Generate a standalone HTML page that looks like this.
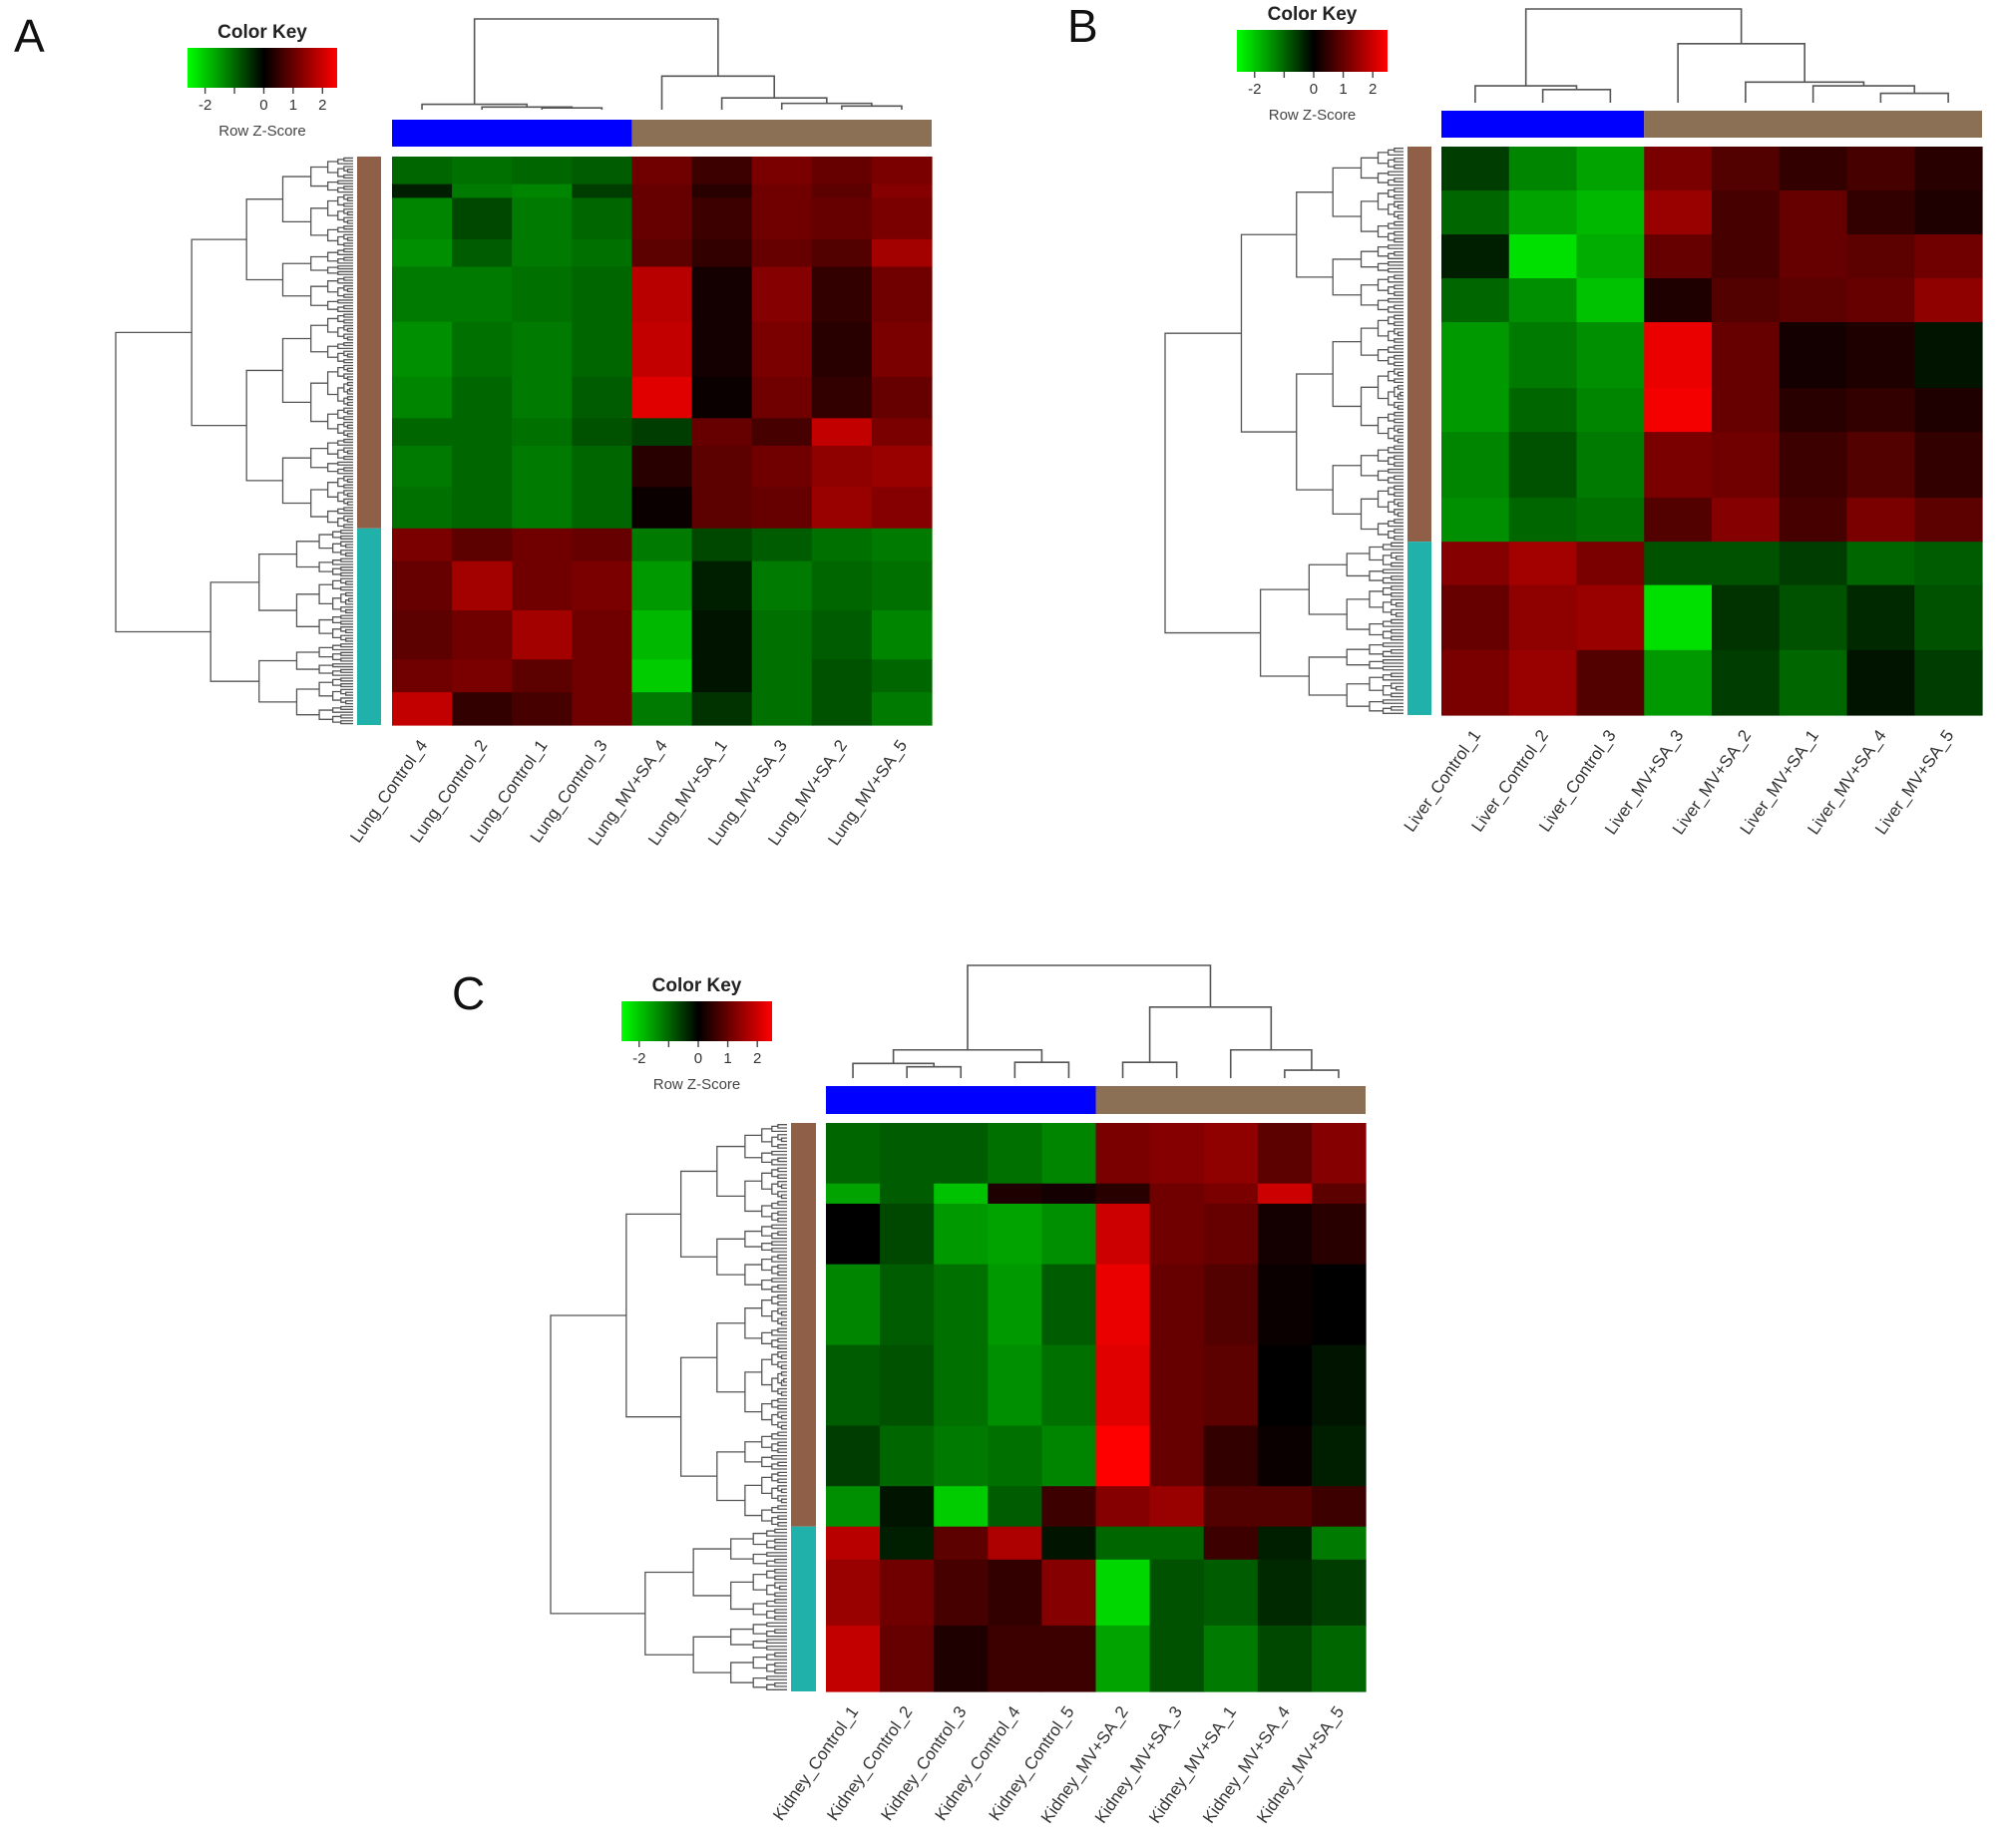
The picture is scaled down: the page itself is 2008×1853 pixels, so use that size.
<!DOCTYPE html>
<html><head><meta charset="utf-8"><style>
html,body{margin:0;padding:0;background:#fff;}
svg{display:block;font-family:"Liberation Sans",sans-serif;}
</style></head><body>
<svg id="fig" width="2008" height="1853" viewBox="0 0 2008 1853" xmlns="http://www.w3.org/2000/svg">
<rect width="2008" height="1853" fill="#fff"/>
<text x="14" y="52" font-size="46" fill="#111">A</text>
<text x="1070" y="42" font-size="46" fill="#111">B</text>
<text x="453" y="1012" font-size="46" fill="#111">C</text>
</svg>
<script>
// ---------- Panel A (Lung) data ----------
const lungSamples = ["Lung_Control_4","Lung_Control_2","Lung_Control_1","Lung_Control_3","Lung_MV+SA_4","Lung_MV+SA_1","Lung_MV+SA_3","Lung_MV+SA_2","Lung_MV+SA_5"];
const lungGroups = [0,0,0,0,1,1,1,1,1];
const lungClusterSplit = 0.654;
const lungTopWeights = [2,1,3,2,4,4,3,2,3,3];
const lungTopRows = [
 [-1.0,-1.1,-1.0,-0.9, 1.1,0.6,1.2,1.0,1.2],
 [-0.3,-1.2,-1.3,-0.6, 1.0,0.4,1.1,0.9,1.3],
 [-1.3,-0.7,-1.2,-1.0, 1.0,0.6,1.1,1.0,1.2],
 [-1.4,-0.9,-1.2,-1.1, 0.9,0.5,1.0,0.8,1.6],
 [-1.2,-1.2,-1.1,-1.0, 1.8,0.2,1.3,0.5,1.1],
 [-1.4,-1.1,-1.2,-1.0, 1.9,0.2,1.2,0.4,1.2],
 [-1.3,-1.0,-1.2,-0.9, 2.2,0.1,1.1,0.5,1.0],
 [-1.0,-1.0,-1.1,-0.8,-0.6,1.0,0.7,1.9,1.2],
 [-1.2,-1.0,-1.2,-1.0, 0.4,0.9,1.1,1.4,1.5],
 [-1.1,-1.0,-1.2,-1.0, 0.1,0.9,1.0,1.5,1.3]];
const lungBottomWeights = [2,3,3,2,2];
const lungBottomRows = [
 [1.2,0.9,1.1,1.0,-1.2,-0.7,-0.9,-1.1,-1.2],
 [1.0,1.6,1.1,1.2,-1.5,-0.3,-1.2,-1.0,-1.1],
 [0.9,1.1,1.6,1.1,-1.8,-0.2,-1.1,-0.9,-1.3],
 [1.1,1.2,0.9,1.1,-2.0,-0.2,-1.1,-0.8,-1.0],
 [1.9,0.5,0.7,1.1,-1.2,-0.5,-1.1,-0.8,-1.2]];
const lungColTree = {h:1,l:{h:0.06,l:0,r:{h:0.03,l:1,r:{h:0.02,l:2,r:3}}},r:{h:0.37,l:4,r:{h:0.13,l:5,r:{h:0.07,l:6,r:{h:0.04,l:7,r:8}}}}};

// ---------- Panel B (Liver) data ----------
const liverSamples = ["Liver_Control_1","Liver_Control_2","Liver_Control_3","Liver_MV+SA_3","Liver_MV+SA_2","Liver_MV+SA_1","Liver_MV+SA_4","Liver_MV+SA_5"];
const liverGroups = [0,0,0,1,1,1,1,1];
const liverClusterSplit = 0.695;
const liverTopWeights = [2,2,2,2,3,2,3,2];
const liverTopRows = [
 [-0.6,-1.3,-1.6, 1.2,0.8,0.5,0.7,0.4],
 [-1.0,-1.6,-1.8, 1.5,0.7,1.0,0.5,0.3],
 [-0.3,-2.2,-1.7, 1.0,0.7,1.0,0.9,1.1],
 [-1.0,-1.4,-1.9, 0.3,0.8,0.9,1.0,1.4],
 [-1.5,-1.2,-1.4, 2.3,1.0,0.2,0.3,-0.2],
 [-1.5,-1.0,-1.3, 2.4,1.0,0.4,0.5,0.3],
 [-1.3,-0.8,-1.2, 1.2,1.1,0.6,0.8,0.5],
 [-1.4,-1.0,-1.1, 0.8,1.3,0.7,1.2,0.9]];
const liverBottomWeights = [2,3,3];
const liverBottomRows = [
 [1.3,1.6,1.2,-0.8,-0.8,-0.6,-1.0,-0.9],
 [1.0,1.4,1.5,-2.2,-0.5,-0.8,-0.4,-0.8],
 [1.2,1.5,0.8,-1.5,-0.6,-1.0,-0.2,-0.6]];
const liverColTree = {h:1,l:{h:0.18,l:0,r:{h:0.14,l:1,r:2}},r:{h:0.63,l:3,r:{h:0.22,l:4,r:{h:0.18,l:5,r:{h:0.1,l:6,r:7}}}}};

// ---------- Panel C (Kidney) data ----------
const kidneySamples = ["Kidney_Control_1","Kidney_Control_2","Kidney_Control_3","Kidney_Control_4","Kidney_Control_5","Kidney_MV+SA_2","Kidney_MV+SA_3","Kidney_MV+SA_1","Kidney_MV+SA_4","Kidney_MV+SA_5"];
const kidneyGroups = [0,0,0,0,0,1,1,1,1,1];
const kidneyClusterSplit = 0.71;
const kidneyTopWeights = [3,1,3,4,4,3,2];
const kidneyTopRows = [
 [-1.0,-0.9,-0.9,-1.1,-1.3, 1.2,1.3,1.4,0.9,1.3],
 [-1.6,-0.9,-1.9, 0.3, 0.2, 0.4,1.1,1.2,2.0,0.9],
 [ 0.0,-0.7,-1.5,-1.6,-1.4, 2.0,1.1,1.0,0.2,0.4],
 [-1.3,-0.9,-1.1,-1.5,-0.9, 2.3,1.0,0.8,0.1,0.0],
 [-0.9,-0.8,-1.1,-1.4,-1.1, 2.2,1.0,0.9,0.0,-0.2],
 [-0.6,-1.0,-1.2,-1.1,-1.3, 2.6,1.0,0.5,0.1,-0.3],
 [-1.4,-0.2,-2.0,-0.9, 0.6, 1.3,1.5,0.8,0.8,0.6]];
const kidneyBottomWeights = [1.5,3,3];
const kidneyBottomRows = [
 [1.8,-0.3,0.9,1.7,-0.2,-1.0,-1.0,0.6,-0.3,-1.2],
 [1.5,1.1,0.7,0.5,1.3,-2.1,-0.8,-0.9,-0.4,-0.6],
 [1.9,1.0,0.3,0.6,0.6,-1.6,-0.8,-1.2,-0.7,-1.0]];
const kidneyColTree = {h:1,l:{h:0.25,l:{h:0.13,l:0,r:{h:0.1,l:1,r:2}},r:{h:0.14,l:3,r:4}},r:{h:0.63,l:{h:0.14,l:5,r:6},r:{h:0.25,l:7,r:{h:0.07,l:8,r:9}}}};

const keyTicks = [-2,-1,0,1,2];
const keyTickLabels = ["-2","","0","1","2"];
const keyMin = -2.6, keyMax = 2.5;

const NS = "http://www.w3.org/2000/svg";
const svg = document.getElementById("fig");
function mk(tag, attrs, parent){const e=document.createElementNS(NS,tag);for(const k in attrs)e.setAttribute(k,attrs[k]);(parent||svg).appendChild(e);return e;}
function zColor(v){
  const t=Math.max(-1,Math.min(1,v/2.5));
  if(t>=0) return `rgb(${Math.round(255*t)},0,0)`;
  return `rgb(0,${Math.round(255*-t)},0)`;
}

function drawPanel(p){
  const g=mk("g",{});
  
  
  const nC=p.samples.length;
  const cw=p.hm.w/nC;
  const xCol=i=>p.hm.x+i*cw;
  const splitY=p.hm.y+p.hm.h*p.split;
  function drawRows(rows,weights,y0,y1){
    const tot=weights.reduce((a,b)=>a+b,0);
    let y=y0;
    rows.forEach((row,ri)=>{
      const h=(y1-y0)*weights[ri]/tot;
      row.forEach((v,ci)=>{
        const r=mk("rect",{x:xCol(ci),y:y,width:cw+0.6,height:h+0.6,fill:zColor(v)},g);
        
        
      });
      y+=h;
    });
  }
  drawRows(p.topRows,p.topW,p.hm.y,splitY);
  drawRows(p.botRows,p.botW,splitY,p.hm.y+p.hm.h);
  let blueEnd=0; p.groups.forEach((gr,i)=>{if(gr===0)blueEnd=i+1;});
  const cb1=mk("rect",{x:p.hm.x,y:p.cb.y,width:blueEnd*cw,height:p.cb.h,fill:"#0000ff"},g);
  
  
  const cb2=mk("rect",{x:xCol(blueEnd),y:p.cb.y,width:(nC-blueEnd)*cw,height:p.cb.h,fill:"#8b7055"},g);
  
  
  const rs1=mk("rect",{x:p.sb.x,y:p.hm.y,width:p.sb.w,height:splitY-p.hm.y,fill:"#8f5f48"},g);
  
  
  const rs2=mk("rect",{x:p.sb.x,y:splitY,width:p.sb.w,height:p.hm.y+p.hm.h-splitY,fill:"#20b2aa"},g);
  
  
  const dTop=p.cd.top, dBot=p.cd.bot;
  const yH=h=>dBot-h*(dBot-dTop);
  let path="";
  function cnode(n){
    if(typeof n==="number") return {x:xCol(n)+cw/2,y:dBot};
    const a=cnode(n.l),b=cnode(n.r),y=yH(n.h);
    path+=`M${a.x},${a.y}V${y}H${b.x}V${b.y}`;
    return {x:(a.x+b.x)/2,y:y};
  }
  cnode(p.colTree);
  const cdp=mk("path",{d:path,fill:"none",stroke:"#555","stroke-width":1.6},g);
  
  
  let rp="";
  const leafX=p.sb.x-4, rootX=p.rd.left;
  const N=p.leaves;
  const leafY=i=>p.hm.y+(i+0.5)*p.hm.h/N;
  const splitLeaf=Math.round(N*p.split);
  function rnode(lo,hi,h,depth){
    if(hi-lo<=1) return {x:leafX,y:leafY(lo)};
    const mid=lo+Math.max(1,Math.round((hi-lo)*(depth%2?0.42:0.58)));
    const ch=h*(depth<3?0.66:0.6);
    const a=rnode(lo,mid,ch,depth+1),b=rnode(mid,hi,ch,depth+1);
    const x=leafX-(leafX-rootX)*h;
    rp+=`M${a.x},${a.y}H${x}V${b.y}H${b.x}`;
    return {x:x,y:(a.y+b.y)/2};
  }
  const A=rnode(0,splitLeaf,0.68,1),B=rnode(splitLeaf,N,0.6,2);
  rp+=`M${A.x},${A.y}H${rootX}V${B.y}H${B.x}`;
  const rdp=mk("path",{d:rp,fill:"none",stroke:"#555","stroke-width":1.3},g);
  
  
  p.samples.forEach((s,i)=>{
    const cx=xCol(i)+cw/2+6, cy=p.hm.y+p.hm.h+20;
    const t=mk("text",{x:cx,y:cy,"font-size":p.fs,fill:"#333","text-anchor":"end",transform:`rotate(-55 ${cx} ${cy})`},g);
    t.textContent=s;
    
    
  });
  const k=p.key;
  const gid="grad"+p.name;
  const defs=mk("defs",{},g);
  const lg=mk("linearGradient",{id:gid,x1:0,x2:1,y1:0,y2:0},defs);
  [keyMin,-1.3,0,1.25,keyMax].forEach(v=>{mk("stop",{offset:(v-keyMin)/(keyMax-keyMin),"stop-color":zColor(v)},lg);});
  const kr=mk("rect",{x:k.x,y:k.y,width:k.w,height:k.h,fill:`url(#${gid})`},g);
  
  
  const kt=mk("text",{x:k.x+k.w/2,y:k.y-10,"font-size":19,"font-weight":"bold",fill:"#222","text-anchor":"middle"},g);
  kt.textContent="Color Key";
  
  
  keyTicks.forEach((v,i)=>{
    const x=k.x+(v-keyMin)/(keyMax-keyMin)*k.w;
    mk("line",{x1:x,x2:x,y1:k.y+k.h,y2:k.y+k.h+6,stroke:"#444","stroke-width":1.4},g);
    if(keyTickLabels[i]){
      const tl=mk("text",{x:x,y:k.y+k.h+22,"font-size":15,fill:"#333","text-anchor":"middle"},g);
      tl.textContent=keyTickLabels[i];
      
      
    }
  });
  const ks=mk("text",{x:k.x+k.w/2,y:k.y+k.h+48,"font-size":15,fill:"#444","text-anchor":"middle"},g);
  ks.textContent="Row Z-Score";
  
  
}

drawPanel({name:"lung",samples:lungSamples,groups:lungGroups,split:lungClusterSplit,topRows:lungTopRows,topW:lungTopWeights,botRows:lungBottomRows,botW:lungBottomWeights,colTree:lungColTree,
  hm:{x:393,y:157,w:541,h:570},cb:{y:120,h:27},sb:{x:358,w:24},cd:{top:19,bot:110},rd:{left:116},leaves:200,fs:17,key:{x:188,y:48,w:150,h:40}});
drawPanel({name:"liver",samples:liverSamples,groups:liverGroups,split:liverClusterSplit,topRows:liverTopRows,topW:liverTopWeights,botRows:liverBottomRows,botW:liverBottomWeights,colTree:liverColTree,
  hm:{x:1445,y:147,w:542,h:570},cb:{y:111,h:27},sb:{x:1411,w:24},cd:{top:9,bot:103},rd:{left:1168},leaves:170,fs:17,key:{x:1240,y:30,w:151,h:42}});
drawPanel({name:"kidney",samples:kidneySamples,groups:kidneyGroups,split:kidneyClusterSplit,topRows:kidneyTopRows,topW:kidneyTopWeights,botRows:kidneyBottomRows,botW:kidneyBottomWeights,colTree:kidneyColTree,
  hm:{x:828,y:1126,w:541,h:570},cb:{y:1089,h:28},sb:{x:793,w:25},cd:{top:968,bot:1081},rd:{left:552},leaves:170,fs:17,key:{x:623,y:1004,w:151,h:40}});
</script>
</body></html>
